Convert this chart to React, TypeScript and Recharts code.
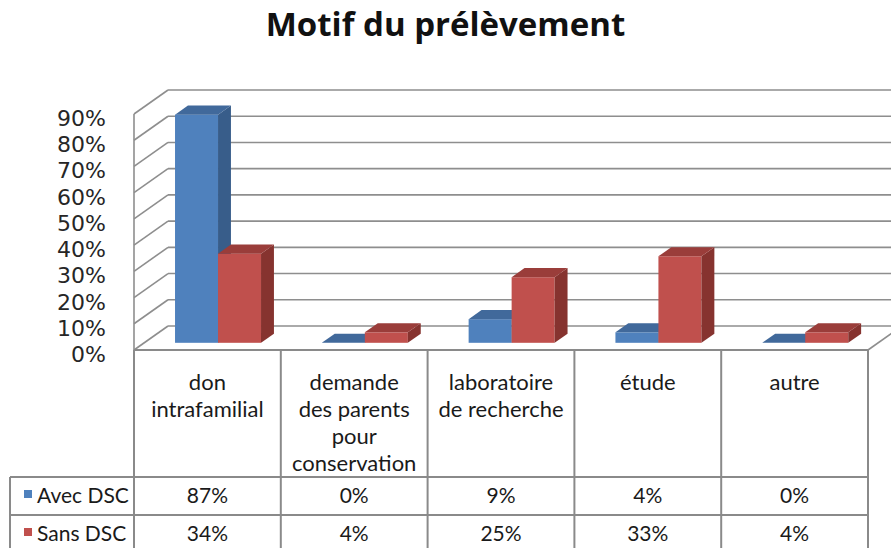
import React from "react";
import { BarChart, Bar, XAxis, YAxis, CartesianGrid } from "recharts";

const categories = [
  "don\nintrafamilial",
  "demande\ndes parents\npour\nconservation",
  "laboratoire\nde recherche",
  "étude",
  "autre",
];
const avecDsc = [87, 0, 9, 4, 0];
const sansDsc = [34, 4, 25, 33, 4];
const yTicks = [0, 10, 20, 30, 40, 50, 60, 70, 80, 90];
const seriesNames = ["Avec DSC", "Sans DSC"];

const data = categories.map((name, i) => ({
  name,
  avec: avecDsc[i],
  sans: sansDsc[i],
}));

const W = 891;
const H = 548;
const PLOT_LEFT = 134;
const PLOT_RIGHT = 868;
const PLOT_TOP = 114;
const PLOT_BOTTOM = 350;
const BAND = (PLOT_RIGHT - PLOT_LEFT) / categories.length;

// depth of the 3d box
const DEPTH_X = 34;
const DEPTH_Y = -24;
// where the bars sit in depth, and their own depth
const BAR_OFF = 0.3;
const BAR_DEPTH = 0.38;

const GRID = "#8e8e8e";
const BORDER = "#8a8a8a";
const TEXT = "#1a1a1a";
const FONT = "Lato, 'Open Sans', sans-serif";

const blue = { front: "#4f81bd", side: "#385d8a", top: "#41699b" };
const red = { front: "#c0504d", side: "#86332f", top: "#9a3d3a" };

function makeBar(c: typeof blue) {
  return (props: any) => {
    const { x, y, width, height } = props;
    if (x == null || y == null) return <g />;
    const h = Math.max(0, height || 0);
    const fx = x + DEPTH_X * BAR_OFF;
    const fy = y + DEPTH_Y * BAR_OFF;
    const ddx = DEPTH_X * BAR_DEPTH;
    const ddy = DEPTH_Y * BAR_DEPTH;
    const w = width;
    return (
      <g>
        <rect x={fx} y={fy} width={w} height={h} fill={c.front} />
        <polygon
          points={`${fx + w},${fy} ${fx + w + ddx},${fy + ddy} ${fx + w + ddx},${fy + h + ddy} ${fx + w},${fy + h}`}
          fill={c.side}
        />
        <polygon
          points={`${fx},${fy} ${fx + ddx},${fy + ddy} ${fx + w + ddx},${fy + ddy} ${fx + w},${fy}`}
          fill={c.top}
        />
      </g>
    );
  };
}

const GridLine = (props: any) => {
  const { x1, x2, y1, index } = props;
  return (
    <g key={`g-${index}-${y1}`}>
      <line x1={x1} y1={y1} x2={x1 + DEPTH_X} y2={y1 + DEPTH_Y} stroke={GRID} strokeWidth={1.6} />
      <line
        x1={x1 + DEPTH_X}
        y1={y1 + DEPTH_Y}
        x2={x2 + DEPTH_X}
        y2={y1 + DEPTH_Y}
        stroke={GRID}
        strokeWidth={1.6}
      />
      {Math.abs(y1 - PLOT_BOTTOM) < 1 && (
        <line x1={x2} y1={y1} x2={x2 + DEPTH_X} y2={y1 + DEPTH_Y} stroke={GRID} strokeWidth={1.6} />
      )}
    </g>
  );
};

const YTick = (props: any) => {
  const { x, y, payload } = props;
  return (
    <text
      x={x}
      y={y}
      dy={12}
      textAnchor="end"
      fontSize={22}
      fontFamily="'DejaVu Sans', sans-serif"
      fill="#262626"
    >
      {payload.value}%
    </text>
  );
};

const ROW1 = 477;
const ROW2 = 515;
const ROW3 = 553;

const TableTick = (props: any) => {
  const { payload } = props;
  const i = payload.index;
  const cx = payload.coordinate;
  const left = cx - BAND / 2;
  const right = cx + BAND / 2;
  const lines = String(payload.value).split("\n");
  return (
    <g>
      <line x1={left} y1={PLOT_BOTTOM} x2={left} y2={H} stroke={BORDER} strokeWidth={2} />
      {i === categories.length - 1 && (
        <line x1={right} y1={PLOT_BOTTOM} x2={right} y2={H} stroke={BORDER} strokeWidth={2} />
      )}
      {lines.map((t, k) => (
        <text
          key={k}
          x={cx}
          y={390 + k * 27}
          textAnchor="middle"
          fontSize={22}
          fontFamily={FONT}
          fill={TEXT}
        >
          {t}
        </text>
      ))}
      <text x={cx} y={503} textAnchor="middle" fontSize={21} fontFamily={FONT} fill={TEXT}>
        {avecDsc[i]}%
      </text>
      <text x={cx} y={541} textAnchor="middle" fontSize={21} fontFamily={FONT} fill={TEXT}>
        {sansDsc[i]}%
      </text>
      {i === 0 && (
        <g>
          <line x1={10} y1={ROW1} x2={PLOT_RIGHT} y2={ROW1} stroke={BORDER} strokeWidth={2} />
          <line x1={10} y1={ROW2} x2={PLOT_RIGHT} y2={ROW2} stroke={BORDER} strokeWidth={2} />
          <line x1={10} y1={ROW3} x2={PLOT_RIGHT} y2={ROW3} stroke={BORDER} strokeWidth={2} />
          <line x1={10} y1={ROW1} x2={10} y2={H} stroke={BORDER} strokeWidth={2} />
          <rect x={24} y={490} width={8} height={8} fill={blue.front} />
          <text x={37} y={503} fontSize={21} fontFamily={FONT} fill={TEXT}>
            {seriesNames[0]}
          </text>
          <rect x={24} y={528} width={8} height={8} fill={red.front} />
          <text x={37} y={541} fontSize={21} fontFamily={FONT} fill={TEXT}>
            {seriesNames[1]}
          </text>
        </g>
      )}
    </g>
  );
};

export default function App() {
  return (
    <div style={{ position: "fixed", left: 0, top: 0, width: W, height: H, background: "#fff" }}>
      <div
        style={{
          position: "absolute",
          left: 0,
          top: 4,
          width: W,
          textAlign: "center",
          fontFamily: "'Open Sans', Lato, sans-serif",
          fontWeight: 700,
          fontSize: 33,
          color: "#111",
          lineHeight: "40px",
        }}
      >
        Motif du prélèvement
      </div>
      <BarChart
        width={W}
        height={H}
        data={data}
        margin={{ top: PLOT_TOP, right: W - PLOT_RIGHT, bottom: 0, left: 34 }}
        barCategoryGap="21%"
        barGap={0}
      >
        <CartesianGrid vertical={false} horizontal={GridLine as any} />
        <YAxis
          width={100}
          domain={[0, 90]}
          ticks={yTicks}
          interval={0}
          tickLine={false}
          tickSize={0}
          tickMargin={28}
          axisLine={{ stroke: GRID, strokeWidth: 1.6 }}
          tick={YTick}
        />
        <XAxis
          dataKey="name"
          height={H - PLOT_BOTTOM}
          interval={0}
          tickLine={false}
          axisLine={{ stroke: BORDER, strokeWidth: 2 }}
          tick={TableTick}
        />
        <Bar dataKey="avec" name={seriesNames[0]} shape={makeBar(blue)} isAnimationActive={false} />
        <Bar dataKey="sans" name={seriesNames[1]} shape={makeBar(red)} isAnimationActive={false} />
      </BarChart>
    </div>
  );
}
